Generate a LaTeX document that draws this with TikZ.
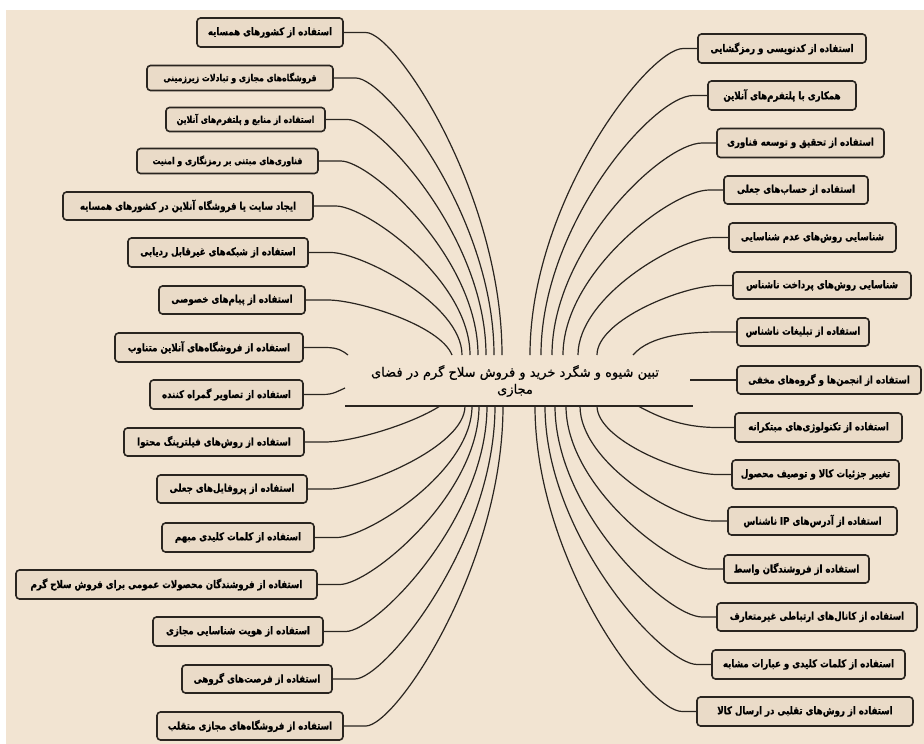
\documentclass[tikz,border=0pt]{standalone}
\usepackage{fontspec}
\newfontfamily\arabicfont[Script=Arabic,FakeStretch=0.82,BoldFeatures={FakeBold=0.8}]{DejaVu Sans}
\newfontfamily\titlefont[Script=Arabic,FakeBold=0.6]{DejaVu Sans}
\TeXXeTstate=1
\definecolor{bgcol}{HTML}{F2E4D2}
\definecolor{boxfill}{HTML}{EADBC8}
\definecolor{inkcol}{HTML}{2A2520}
\tikzset{
  item/.style={draw=inkcol, line width=1.6pt, rounded corners=3.5pt, fill=boxfill,
    inner sep=0pt, text=black, font=\arabicfont\bfseries\fontsize{10.5}{12}\selectfont},
  itemsmall/.style={item, font=\arabicfont\bfseries\fontsize{9.5}{11}\selectfont},
  link/.style={draw=inkcol, line width=1.2pt},
  titletext/.style={align=center, inner sep=0pt, text=black,
    font=\titlefont\fontsize{13}{17}\selectfont},
}
\begin{document}
\begin{tikzpicture}[x=1pt,y=-1pt]
\useasboundingbox (0,0) rectangle (924,744);
\fill[white] (0,0) rectangle (924,744);
\fill[bgcol] (6,10) rectangle (924,744);

% title
\node[titletext] (title) at (515,381) {\beginR تبین شیوه و شگرد خرید و فروش سلاح گرم در فضای\endR\\\beginR مجازی\endR};
\coordinate (ulA) at (345,406);
\coordinate (ulB) at (693,406);
\draw[inkcol, line width=2pt] (ulA) -- (ulB);

% left boxes
\node[item,minimum width=146pt,minimum height=29pt] (l1) at (270,32.5) {\beginR استفاده از کشورهای همسایه\endR};
\node[itemsmall,minimum width=186pt,minimum height=25pt] (l2) at (240,78) {\beginR فروشگاه‌های مجازی و تبادلات زیرزمینی\endR};
\node[itemsmall,minimum width=159pt,minimum height=24pt] (l3) at (245.5,119.5) {\beginR استفاده از منابع و پلتفرم‌های آنلاین\endR};
\node[itemsmall,minimum width=181pt,minimum height=25pt] (l4) at (227.5,161) {\beginR فناوری‌های مبتنی بر رمزنگاری و امنیت\endR};
\node[item,minimum width=250pt,minimum height=28pt] (l5) at (188,206) {\beginR ایجاد سایت یا فروشگاه آنلاین در کشورهای همسایه\endR};
\node[item,minimum width=180pt,minimum height=29pt] (l6) at (218,252.5) {\beginR استفاده از شبکه‌های غیرقابل ردیابی\endR};
\node[item,minimum width=146pt,minimum height=28pt] (l7) at (232,300) {\beginR استفاده از پیام‌های خصوصی\endR};
\node[item,minimum width=188pt,minimum height=29pt] (l8) at (209,347.5) {\beginR استفاده از فروشگاه‌های آنلاین متناوب\endR};
\node[item,minimum width=153pt,minimum height=29pt] (l9) at (226.5,394.5) {\beginR استفاده از تصاویر گمراه کننده\endR};
\node[item,minimum width=180pt,minimum height=28pt] (l10) at (214,442) {\beginR استفاده از روش‌های فیلترینگ محتوا\endR};
\node[item,minimum width=150pt,minimum height=28pt] (l11) at (232,489) {\beginR استفاده از پروفایل‌های جعلی\endR};
\node[item,minimum width=152pt,minimum height=29pt] (l12) at (238,537.5) {\beginR استفاده از کلمات کلیدی مبهم\endR};
\node[item,minimum width=301pt,minimum height=29pt] (l13) at (166.5,584.5) {\beginR استفاده از فروشندگان محصولات عمومی برای فروش سلاح گرم\endR};
\node[item,minimum width=170pt,minimum height=29pt] (l14) at (238,631.5) {\beginR استفاده از هویت شناسایی مجازی\endR};
\node[item,minimum width=150pt,minimum height=28pt] (l15) at (257,679) {\beginR استفاده از فرصت‌های گروهی\endR};
\node[item,minimum width=186pt,minimum height=28pt] (l16) at (250,726) {\beginR استفاده از فروشگاه‌های مجازی متقلب\endR};

% right boxes
\node[item,minimum width=168pt,minimum height=29pt] (r1) at (782,48.5) {\beginR استفاده از کدنویسی و رمزگشایی\endR};
\node[item,minimum width=148pt,minimum height=29pt] (r2) at (782,95.5) {\beginR همکاری با پلتفرم‌های آنلاین\endR};
\node[item,minimum width=167pt,minimum height=29pt] (r3) at (800.5,143) {\beginR استفاده از تحقیق و توسعه فناوری\endR};
\node[item,minimum width=144pt,minimum height=28pt] (r4) at (796,190) {\beginR استفاده از حساب‌های جعلی\endR};
\node[item,minimum width=167pt,minimum height=29pt] (r5) at (812.5,237.5) {\beginR شناسایی روش‌های عدم شناسایی\endR};
\node[item,minimum width=178pt,minimum height=27pt] (r6) at (822,285.5) {\beginR شناسایی روش‌های پرداخت ناشناس\endR};
\node[item,minimum width=132pt,minimum height=28pt] (r7) at (803,332) {\beginR استفاده از تبلیغات ناشناس\endR};
\node[item,minimum width=184pt,minimum height=28pt] (r8) at (829,380) {\beginR استفاده از انجمن‌ها و گروه‌های مخفی\endR};
\node[item,minimum width=167pt,minimum height=29pt] (r9) at (818.5,427.5) {\beginR استفاده از تکنولوژی‌های مبتکرانه\endR};
\node[item,minimum width=167pt,minimum height=29pt] (r10) at (815.5,474.5) {\beginR تغییر جزئیات کالا و توصیف محصول\endR};
\node[item,minimum width=169pt,minimum height=28pt] (r11) at (812.5,521) {\beginR استفاده از آدرس‌های IP ناشناس\endR};
\node[item,minimum width=145pt,minimum height=28pt] (r12) at (796.5,569) {\beginR استفاده از فروشندگان واسط\endR};
\node[item,minimum width=200pt,minimum height=28pt] (r13) at (817,617) {\beginR استفاده از کانال‌های ارتباطی غیرمتعارف\endR};
\node[item,minimum width=193pt,minimum height=29pt] (r14) at (808.5,664.5) {\beginR استفاده از کلمات کلیدی و عبارات مشابه\endR};
\node[item,minimum width=216pt,minimum height=29pt] (r15) at (805,711.5) {\beginR استفاده از روش‌های تقلبی در ارسال کالا\endR};

% free ends of connectors
\coordinate (e1) at (502,355);
\coordinate (e2) at (494,355);
\coordinate (e3) at (486,355);
\coordinate (e4) at (478,355);
\coordinate (e5) at (470,355);
\coordinate (e6) at (462,355);
\coordinate (e7) at (452,355);
\coordinate (e8) at (348,355);
\coordinate (e9) at (345,388);
\coordinate (e10) at (440,406);
\coordinate (e11) at (465,406);
\coordinate (e12) at (472,406);
\coordinate (e13) at (479,406);
\coordinate (e14) at (487,406);
\coordinate (e15) at (495,406);
\coordinate (e16) at (503,406);
\coordinate (f1) at (530,355);
\coordinate (f2) at (541,355);
\coordinate (f3) at (552,355);
\coordinate (f4) at (563,355);
\coordinate (f5) at (578,355);
\coordinate (f6) at (597,355);
\coordinate (f7) at (633,355);
\coordinate (f8) at (690,380);
\coordinate (f9) at (638,406);
\coordinate (f10) at (597,406);
\coordinate (f11) at (580,406);
\coordinate (f12) at (566,406);
\coordinate (f13) at (555,406);
\coordinate (f14) at (545,406);
\coordinate (f15) at (535,406);

% left connectors
\draw[link] (l1.east) -- ++(22,0) .. controls +(30,0) and (502,194) .. (e1);
\draw[link] (l2.east) -- ++(22,0) .. controls +(30,0) and (494,216.5) .. (e2);
\draw[link] (l3.east) -- ++(22,0) .. controls +(30,0) and (486,237) .. (e3);
\draw[link] (l4.east) -- ++(22,0) .. controls +(30,0) and (478,258) .. (e4);
\draw[link] (l5.east) -- ++(22,0) .. controls +(30,0) and (470,280) .. (e5);
\draw[link] (l6.east) -- ++(22,0) .. controls +(30,0) and (462,304) .. (e6);
\draw[link] (l7.east) -- ++(22,0) .. controls +(30,0) and (440,325) .. (e7);
\draw[link] (l8.east) -- ++(22,0) .. controls +(12,0) and (343,351) .. (e8);
\draw[link] (l9.east) -- ++(19,0) .. controls +(11,0) and (338,391) .. (e9);
\draw[link] (l10.east) -- ++(20,0) .. controls +(28,0) and (412,424) .. (e10);
\draw[link] (l11.east) -- ++(22,0) .. controls +(30,0) and (465,447.5) .. (e11);
\draw[link] (l12.east) -- ++(22,0) .. controls +(30,0) and (472,472) .. (e12);
\draw[link] (l13.east) -- ++(22,0) .. controls +(30,0) and (479,495) .. (e13);
\draw[link] (l14.east) -- ++(22,0) .. controls +(30,0) and (487,519) .. (e14);
\draw[link] (l15.east) -- ++(22,0) .. controls +(30,0) and (495,542) .. (e15);
\draw[link] (l16.east) -- ++(22,0) .. controls +(30,0) and (503,566) .. (e16);

% right connectors
\draw[link] (r1.west) -- ++(-14,0) .. controls +(-35,0) and (530,202) .. (f1);
\draw[link] (r2.west) -- ++(-14,0) .. controls +(-40,0) and (541,225) .. (f2);
\draw[link] (r3.west) -- ++(-14,0) .. controls +(-40,0) and (552,249) .. (f3);
\draw[link] (r4.west) -- ++(-14,0) .. controls +(-38,0) and (563,272.5) .. (f4);
\draw[link] (r5.west) -- ++(-14,0) .. controls +(-35,0) and (578,296) .. (f5);
\draw[link] (r6.west) -- ++(-14,0) .. controls +(-35,0) and (597,320) .. (f6);
\draw[link] (r7.west) -- ++(-17,0) .. controls +(-30,0) and (650,335) .. (f7);
\draw[link] (r8.west) -- (f8);
\draw[link] (r9.west) -- ++(-17,0) .. controls +(-38,0) and (655,415) .. (f9);
\draw[link] (r10.west) -- ++(-14,0) .. controls +(-35,0) and (597,440) .. (f10);
\draw[link] (r11.west) -- ++(-14,0) .. controls +(-35,0) and (580,463.5) .. (f11);
\draw[link] (r12.west) -- ++(-14,0) .. controls +(-35,0) and (566,487.5) .. (f12);
\draw[link] (r13.west) -- ++(-14,0) .. controls +(-35,0) and (555,511.5) .. (f13);
\draw[link] (r14.west) -- ++(-14,0) .. controls +(-35,0) and (545,535) .. (f14);
\draw[link] (r15.west) -- ++(-14,0) .. controls +(-35,0) and (535,559) .. (f15);
\end{tikzpicture}
\end{document}
